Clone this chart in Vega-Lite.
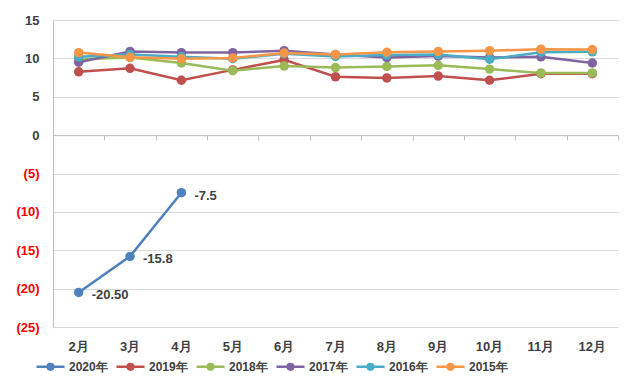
{
  "$schema": "https://vega.github.io/schema/vega-lite/v6.json",
  "width": 565,
  "height": 307,
  "autosize": {"type": "none"},
  "padding": {"left": 53, "top": 20, "right": 22, "bottom": 56},
  "background": "white",
  "config": {
    "view": {"stroke": null},
    "font": "Liberation Sans",
    "axis": {"labelFont": "Liberation Sans", "labelFontWeight": "bold", "labelFontSize": 13, "labelColor": "#404040"},
    "legend": {"labelFont": "Liberation Sans", "labelFontWeight": "bold", "labelFontSize": 12, "labelColor": "#404040"}
  },
  "data": {
    "values": [
      {"month": "2月", "year": "2020年", "value": -20.5, "label": "-20.50"},
      {"month": "3月", "year": "2020年", "value": -15.8, "label": "-15.8"},
      {"month": "4月", "year": "2020年", "value": -7.5, "label": "-7.5"},
      {"month": "2月", "year": "2019年", "value": 8.25},
      {"month": "3月", "year": "2019年", "value": 8.7},
      {"month": "4月", "year": "2019年", "value": 7.15},
      {"month": "5月", "year": "2019年", "value": 8.5},
      {"month": "6月", "year": "2019年", "value": 9.8},
      {"month": "7月", "year": "2019年", "value": 7.6},
      {"month": "8月", "year": "2019年", "value": 7.45},
      {"month": "9月", "year": "2019年", "value": 7.7},
      {"month": "10月", "year": "2019年", "value": 7.15},
      {"month": "11月", "year": "2019年", "value": 8.0},
      {"month": "12月", "year": "2019年", "value": 8.0},
      {"month": "2月", "year": "2018年", "value": 9.9},
      {"month": "3月", "year": "2018年", "value": 10.1},
      {"month": "4月", "year": "2018年", "value": 9.4},
      {"month": "5月", "year": "2018年", "value": 8.4},
      {"month": "6月", "year": "2018年", "value": 9.0},
      {"month": "7月", "year": "2018年", "value": 8.8},
      {"month": "8月", "year": "2018年", "value": 8.95},
      {"month": "9月", "year": "2018年", "value": 9.1},
      {"month": "10月", "year": "2018年", "value": 8.6},
      {"month": "11月", "year": "2018年", "value": 8.1},
      {"month": "12月", "year": "2018年", "value": 8.1},
      {"month": "2月", "year": "2017年", "value": 9.5},
      {"month": "3月", "year": "2017年", "value": 10.9},
      {"month": "4月", "year": "2017年", "value": 10.75},
      {"month": "5月", "year": "2017年", "value": 10.75},
      {"month": "6月", "year": "2017年", "value": 11.0},
      {"month": "7月", "year": "2017年", "value": 10.5},
      {"month": "8月", "year": "2017年", "value": 10.1},
      {"month": "9月", "year": "2017年", "value": 10.3},
      {"month": "10月", "year": "2017年", "value": 10.1},
      {"month": "11月", "year": "2017年", "value": 10.2},
      {"month": "12月", "year": "2017年", "value": 9.4},
      {"month": "2月", "year": "2016年", "value": 10.2},
      {"month": "3月", "year": "2016年", "value": 10.5},
      {"month": "4月", "year": "2016年", "value": 10.2},
      {"month": "5月", "year": "2016年", "value": 9.95},
      {"month": "6月", "year": "2016年", "value": 10.6},
      {"month": "7月", "year": "2016年", "value": 10.25},
      {"month": "8月", "year": "2016年", "value": 10.45},
      {"month": "9月", "year": "2016年", "value": 10.5},
      {"month": "10月", "year": "2016年", "value": 9.9},
      {"month": "11月", "year": "2016年", "value": 10.8},
      {"month": "12月", "year": "2016年", "value": 10.85},
      {"month": "2月", "year": "2015年", "value": 10.75},
      {"month": "3月", "year": "2015年", "value": 10.15},
      {"month": "4月", "year": "2015年", "value": 9.95},
      {"month": "5月", "year": "2015年", "value": 10.05},
      {"month": "6月", "year": "2015年", "value": 10.7},
      {"month": "7月", "year": "2015年", "value": 10.5},
      {"month": "8月", "year": "2015年", "value": 10.8},
      {"month": "9月", "year": "2015年", "value": 10.9},
      {"month": "10月", "year": "2015年", "value": 11.0},
      {"month": "11月", "year": "2015年", "value": 11.2},
      {"month": "12月", "year": "2015年", "value": 11.15}
    ]
  },
  "encoding": {
    "x": {
      "field": "month",
      "type": "ordinal",
      "bandPosition": 0.5,
      "sort": ["2月", "3月", "4月", "5月", "6月", "7月", "8月", "9月", "10月", "11月", "12月"],
      "scale": {"type": "band", "paddingInner": 0, "paddingOuter": 0}
    },
    "y": {
      "field": "value",
      "type": "quantitative",
      "scale": {"domain": [-25, 15], "nice": false, "zero": false},
      "axis": {
        "title": null,
        "values": [-25, -20, -15, -10, -5, 0, 5, 10, 15],
        "labelExpr": "datum.value < 0 ? '(' + abs(datum.value) + ')' : datum.value",
        "labelColor": {"condition": {"test": "datum.value < 0", "value": "#FF0000"}, "value": "#404040"},
        "ticks": false,
        "labelPadding": 14,
        "domain": true,
        "domainColor": "#BFBFBF",
        "grid": true,
        "gridColor": "#D9D9D9"
      }
    }
  },
  "layer": [
    {
      "mark": {"type": "point", "opacity": 0},
      "encoding": {
        "x": {
          "field": "month",
          "type": "ordinal",
          "bandPosition": 0.5,
          "sort": ["2月", "3月", "4月", "5月", "6月", "7月", "8月", "9月", "10月", "11月", "12月"],
          "axis": {
            "title": null,
            "orient": "bottom",
            "labels": false,
            "grid": false,
            "domain": true,
            "domainColor": "#BFBFBF",
            "ticks": true,
            "tickColor": "#BFBFBF",
            "tickSize": 5,
            "tickBand": "extent",
            "offset": {"expr": "scale('y', 0) - height"}
          }
        }
      }
    },
    {
      "mark": {"type": "line", "strokeWidth": 2.5, "point": {"filled": true, "size": 90, "opacity": 1}},
      "encoding": {
        "x": {
          "field": "month",
          "type": "ordinal",
          "bandPosition": 0.5,
          "sort": ["2月", "3月", "4月", "5月", "6月", "7月", "8月", "9月", "10月", "11月", "12月"],
          "axis": {
            "title": null,
            "orient": "bottom",
            "labelAngle": 0,
            "ticks": false,
            "domain": false,
            "grid": false,
            "labelPadding": 13
          }
        },
        "color": {
          "field": "year",
          "type": "nominal",
          "sort": ["2020年", "2019年", "2018年", "2017年", "2016年", "2015年"],
          "scale": {
            "domain": ["2020年", "2019年", "2018年", "2017年", "2016年", "2015年"],
            "range": ["#4F81BD", "#C0504D", "#9BBB59", "#8064A2", "#4BACC6", "#F79646"]
          },
          "legend": {
            "title": null,
            "orient": "none",
            "direction": "horizontal",
            "legendX": -18,
            "legendY": 331,
            "symbolType": "M-1,0L1,0M0.2,0A0.2,0.2,0,1,1,-0.2,0A0.2,0.2,0,1,1,0.2,0Z",
            "symbolSize": 784,
            "symbolStrokeWidth": 2.5,
            "labelOffset": 3,
            "columnPadding": 3,
            "encode": {"symbols": {"update": {"fill": {"scale": "color", "field": "value"}, "stroke": {"scale": "color", "field": "value"}}}}
          }
        },
        "order": {"field": "year", "sort": "descending"}
      }
    },
    {
      "transform": [{"filter": "datum.label != null"}],
      "mark": {"type": "text", "align": "left", "dx": 13, "dy": 3, "fontSize": 13, "fontWeight": "bold", "color": "#404040", "font": "Liberation Sans"},
      "encoding": {
        "x": {
          "field": "month",
          "type": "ordinal",
          "bandPosition": 0.5,
          "sort": ["2月", "3月", "4月", "5月", "6月", "7月", "8月", "9月", "10月", "11月", "12月"],
          "axis": null
        },
        "text": {"field": "label"}
      }
    }
  ],
  "resolve": {"axis": {"x": "independent"}}
}
